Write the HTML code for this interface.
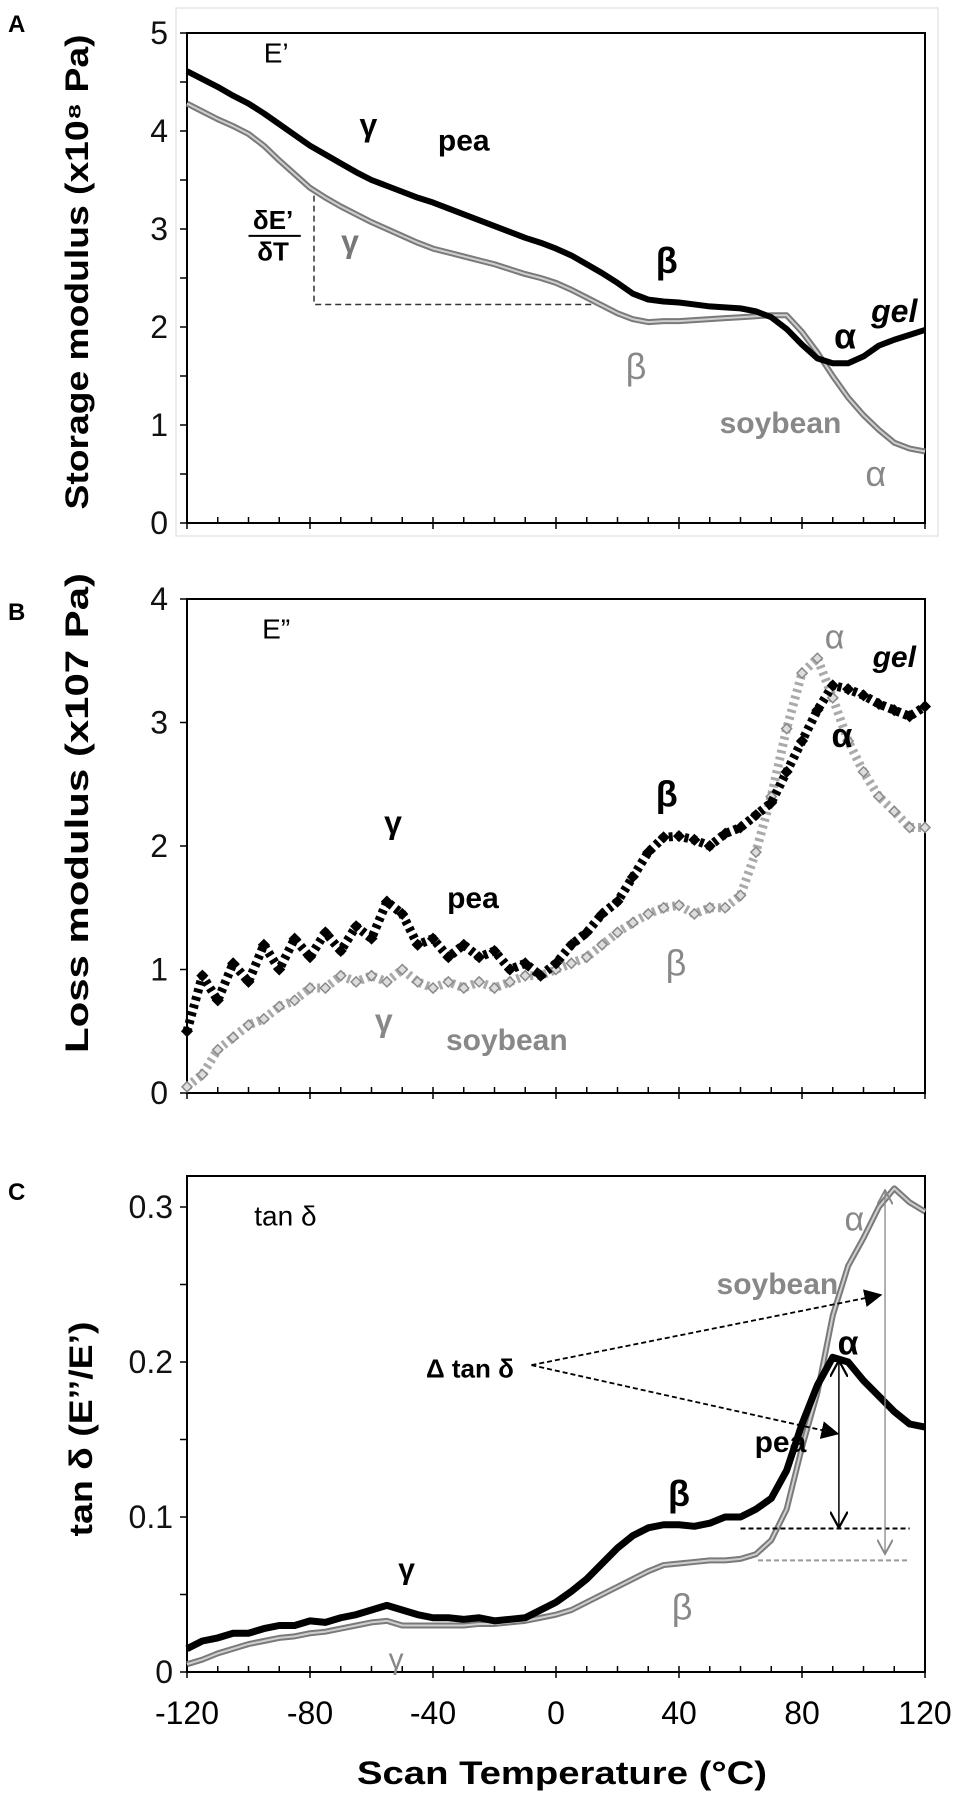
<!DOCTYPE html>
<html><head><meta charset="utf-8"><style>
html,body{margin:0;padding:0;background:#fff}
svg{display:block;font-family:"Liberation Sans",sans-serif}
</style></head><body>
<svg id="fig" width="958" height="1796" viewBox="0 0 958 1796">
<defs>
<marker id="ahB" markerWidth="10" markerHeight="10" refX="8" refY="5" orient="auto"><path d="M0,0 L10,5 L0,10 Z" fill="#000"/></marker>
<marker id="ahL" markerWidth="12" markerHeight="12" refX="10" refY="6" orient="auto-start-reverse"><path d="M0,0 L11,6 L0,12" fill="none" stroke="#000" stroke-width="1.5"/></marker>
<marker id="ahG" markerWidth="12" markerHeight="12" refX="10" refY="6" orient="auto-start-reverse"><path d="M0,0 L11,6 L0,12" fill="none" stroke="#888" stroke-width="1.5"/></marker>
</defs>
<g id="root"></g>
</svg>
<script>
const temps=[-120,-115,-110,-105,-100,-95,-90,-85,-80,-75,-70,-65,-60,-55,-50,-45,-40,-35,-30,-25,-20,-15,-10,-5,0,5,10,15,20,25,30,35,40,45,50,55,60,65,70,75,80,85,90,95,100,105,110,115,120];
const xTicks=[-120,-80,-40,0,40,80,120];
const aPea=[4.61,4.53,4.45,4.36,4.28,4.18,4.07,3.96,3.85,3.76,3.67,3.58,3.50,3.44,3.38,3.32,3.27,3.21,3.15,3.09,3.03,2.97,2.91,2.86,2.80,2.73,2.64,2.55,2.45,2.34,2.28,2.26,2.25,2.23,2.21,2.20,2.19,2.16,2.10,1.98,1.82,1.68,1.63,1.63,1.70,1.81,1.87,1.92,1.97];
const aSoy=[4.28,4.20,4.12,4.05,3.97,3.85,3.70,3.56,3.42,3.32,3.23,3.15,3.07,3.00,2.93,2.86,2.80,2.76,2.72,2.68,2.64,2.59,2.54,2.50,2.45,2.38,2.30,2.22,2.14,2.08,2.05,2.06,2.06,2.07,2.08,2.09,2.10,2.11,2.12,2.12,1.95,1.74,1.50,1.28,1.10,0.95,0.82,0.76,0.73];
const bPea=[0.5,0.95,0.75,1.05,0.9,1.2,1.0,1.25,1.1,1.3,1.15,1.35,1.25,1.55,1.45,1.2,1.25,1.1,1.2,1.1,1.15,1.0,1.05,0.95,1.05,1.2,1.3,1.45,1.55,1.75,1.95,2.07,2.08,2.05,2.0,2.1,2.15,2.25,2.35,2.6,2.85,3.1,3.3,3.27,3.22,3.15,3.1,3.05,3.13];
const bSoy=[0.05,0.15,0.35,0.45,0.55,0.6,0.7,0.75,0.85,0.85,0.95,0.9,0.95,0.9,1.0,0.9,0.85,0.9,0.85,0.9,0.85,0.9,0.95,0.95,1.0,1.05,1.1,1.2,1.3,1.38,1.45,1.5,1.52,1.45,1.5,1.5,1.6,1.95,2.4,2.95,3.4,3.52,3.2,2.85,2.6,2.4,2.28,2.15,2.15];
const cPea=[0.015,0.02,0.022,0.025,0.025,0.028,0.03,0.03,0.033,0.032,0.035,0.037,0.04,0.043,0.04,0.037,0.035,0.035,0.034,0.035,0.033,0.034,0.035,0.04,0.045,0.052,0.06,0.07,0.08,0.088,0.093,0.095,0.095,0.094,0.096,0.1,0.1,0.105,0.112,0.13,0.16,0.185,0.203,0.2,0.188,0.178,0.168,0.16,0.158];
const cSoy=[0.005,0.008,0.012,0.015,0.018,0.02,0.022,0.023,0.025,0.026,0.028,0.03,0.032,0.033,0.03,0.03,0.03,0.03,0.03,0.031,0.031,0.032,0.033,0.035,0.037,0.04,0.045,0.05,0.055,0.06,0.065,0.069,0.07,0.071,0.072,0.072,0.073,0.076,0.085,0.105,0.145,0.18,0.23,0.262,0.28,0.3,0.312,0.303,0.297];
const aYTicks=[0,1,2,3,4,5];
const bYTicks=[0,1,2,3,4];
const cYTicks=[0,0.1,0.2,0.3];
const cYLabels=["0","0.1","0.2","0.3"];

const NS="http://www.w3.org/2000/svg";
const root=document.getElementById('root');
function mk(tag,attrs,parent,text){const e=document.createElementNS(NS,tag);for(const k in attrs)e.setAttribute(k,attrs[k]);if(text!==undefined)e.textContent=text;(parent||root).appendChild(e);return e;}
const X0=187,X1=925;
function xs(t){return X0+(t+120)/240*(X1-X0);}
function mkY(vmin,vmax,py0,py1){return v=>py0+(v-vmin)/(vmax-vmin)*(py1-py0);}

function axes(g,ys,yTop,yMax,yTicks,yLabels,minorStep,labelX){
  const yb=ys(0);
  const ax=mk('path',{d:`M${X0},${yTop} L${X0},${yb} L${X1},${yb} L${X1},${yTop} Z`,fill:'none',stroke:'#000','stroke-width':2},g);
  
  for(let t=-120;t<=120;t+=10){
    const major=xTicks.indexOf(t)>=0;
    const tk=mk('line',{x1:xs(t),x2:xs(t),y1:yb-6,y2:major?yb+6:yb,stroke:'#000','stroke-width':1.5},g);
    
  }
  for(let v=0;v<=yMax+1e-9;v+=minorStep){
    const tk=mk('line',{x1:X0-7,x2:X0,y1:ys(v),y2:ys(v),stroke:'#000','stroke-width':1.5},g);
    
  }
  yTicks.forEach((v,i)=>{
    const lb=mk('text',{x:labelX,y:ys(v)+11,'text-anchor':'end','font-size':32,fill:'#111'},g,yLabels[i]);
    
  });
}
function line(g,vals,ys,color,w,name,dash){
  const a={points:temps.map((t,i)=>xs(t)+','+ys(vals[i])).join(' '),fill:'none',stroke:color,'stroke-width':w,'stroke-linejoin':'round'};
  if(dash)a['stroke-dasharray']=dash;
  const p=mk('polyline',a,g);
  
  return p;
}
function dots(g,vals,ys,fill,stroke,name){
  temps.forEach((t,i)=>{
    const x=xs(t),y=ys(vals[i]);
    const d=mk('path',{d:`M${x},${y-5} L${x+5},${y} L${x},${y+5} L${x-5},${y} Z`,fill:fill,stroke:stroke,'stroke-width':1.5},g);
    
  });
}
function label(g,t,v,ys,txt,opts){
  const o=Object.assign({size:28,fill:'#000',weight:'normal',anchor:'middle',style:'normal'},opts||{});
  const e=mk('text',{x:xs(t),y:ys(v),'font-size':o.size,fill:o.fill,'font-weight':o.weight,'text-anchor':o.anchor,'font-style':o.style},g,txt);
  
  return e;
}
function ytitle(g,cx,cy,len,txt,name){
  const e=mk('text',{x:0,y:0,transform:`translate(${cx},${cy}) rotate(-90)`,'text-anchor':'middle','font-size':32,'font-weight':'bold',textLength:len,lengthAdjust:'spacingAndGlyphs'},g,txt);
  
}
function panelLetter(g,y,txt){
  const e=mk('text',{x:8,y:y,'font-size':24,'font-weight':'bold'},g,txt);
  
}

/* Panel A */
const gA=mk('g',{});
const yA=mkY(0,5,523,33);
mk('rect',{x:176,y:8,width:762,height:528,fill:'none',stroke:'#e6e6e6','stroke-width':1.5},gA);
axes(gA,yA,33,5,aYTicks,aYTicks.map(String),0.5,168);
mk('path',{d:`M${xs(-78.7)},${yA(3.34)} L${xs(-78.7)},${yA(2.23)} L${xs(15)},${yA(2.23)}`,fill:'none',stroke:'#333','stroke-width':1.5,'stroke-dasharray':'6,4'},gA);
line(gA,aSoy,yA,'#7a7a7a',6,'soybean-storage-line');
line(gA,aSoy,yA,'#cfcfcf',2,'soybean-storage-line-core');
line(gA,aPea,yA,'#000',6,'pea-storage-line');
label(gA,-91,4.7,yA,'E’',{size:28});
label(gA,-61,3.95,yA,'γ',{size:32,weight:'bold'});
label(gA,-30,3.8,yA,'pea',{size:30,weight:'bold'});
label(gA,-92,3.0,yA,'δE’',{size:26,weight:'bold'});
mk('line',{x1:xs(-100),x2:xs(-83),y1:yA(2.93),y2:yA(2.93),stroke:'#000','stroke-width':2},gA);
label(gA,-92,2.68,yA,'δT',{size:26,weight:'bold'});
label(gA,-67,2.76,yA,'γ',{size:32,fill:'#777',weight:'bold'});
label(gA,36,2.55,yA,'β',{size:36,weight:'bold'});
label(gA,26,1.47,yA,'β',{size:36,fill:'#888'});
label(gA,94,1.78,yA,'α',{size:36,weight:'bold'});
label(gA,110,2.05,yA,'gel',{size:32,weight:'bold',style:'italic'});
label(gA,73,0.92,yA,'soybean',{size:30,fill:'#888',weight:'bold'});
label(gA,104,0.38,yA,'α',{size:36,fill:'#888'});
ytitle(gA,88,272,475,'Storage modulus (x10⁸ Pa)','y-axis-title-a');
panelLetter(gA,32,'A');

/* Panel B */
const gB=mk('g',{});
const yB=mkY(0,4,1093,599);
axes(gB,yB,599,4,bYTicks,bYTicks.map(String),1,168);
line(gB,bSoy,yB,'#aaa',9,'soybean-loss-band','3,4');
dots(gB,bSoy,yB,'#ddd','#8a8a8a','soybean-loss-point');
line(gB,bPea,yB,'#000',9,'pea-loss-band','4,4');
dots(gB,bPea,yB,'#000','#000','pea-loss-point');
label(gB,-91,3.68,yB,'E”',{size:28});
label(gB,90.6,3.6,yB,'α',{size:34,fill:'#888'});
label(gB,110,3.45,yB,'gel',{size:30,weight:'bold',style:'italic'});
label(gB,93,2.8,yB,'α',{size:34,weight:'bold'});
label(gB,36,2.32,yB,'β',{size:36,weight:'bold'});
label(gB,-53,2.1,yB,'γ',{size:32,weight:'bold'});
label(gB,-27,1.5,yB,'pea',{size:30,weight:'bold'});
label(gB,39,0.95,yB,'β',{size:36,fill:'#888'});
label(gB,-56,0.5,yB,'γ',{size:32,fill:'#888',weight:'bold'});
label(gB,-16,0.35,yB,'soybean',{size:30,fill:'#888',weight:'bold'});
ytitle(gB,88,813,480,'Loss modulus (x107 Pa)','y-axis-title-b');
panelLetter(gB,620,'B');

/* Panel C */
const gC=mk('g',{});
const yC=mkY(0,0.3,1672,1207);
axes(gC,yC,1176,0.3,cYTicks,cYLabels,0.05,173);
line(gC,cSoy,yC,'#7a7a7a',6,'soybean-tandelta-line');
line(gC,cSoy,yC,'#cfcfcf',2,'soybean-tandelta-line-core');
line(gC,cPea,yC,'#000',7,'pea-tandelta-line');
mk('line',{x1:xs(60),x2:xs(115),y1:yC(0.0926),y2:yC(0.0926),stroke:'#000','stroke-width':2,'stroke-dasharray':'5,3'},gC);
mk('line',{x1:xs(65.7),x2:xs(115),y1:yC(0.072),y2:yC(0.072),stroke:'#999','stroke-width':2,'stroke-dasharray':'5,3'},gC);
mk('line',{x1:xs(92),x2:xs(92),y1:yC(0.2),y2:yC(0.094),stroke:'#000','stroke-width':1.5,'marker-start':'url(#ahL)','marker-end':'url(#ahL)'},gC);
mk('line',{x1:xs(107),x2:xs(107),y1:yC(0.31),y2:yC(0.077),stroke:'#888','stroke-width':1.3,'marker-start':'url(#ahG)','marker-end':'url(#ahG)'},gC);
mk('line',{x1:xs(-8),x2:xs(105),y1:yC(0.198),y2:yC(0.243),stroke:'#000','stroke-width':1.8,'stroke-dasharray':'5,3','marker-end':'url(#ahB)'},gC);
mk('line',{x1:xs(-8),x2:xs(91),y1:yC(0.198),y2:yC(0.154),stroke:'#000','stroke-width':1.8,'stroke-dasharray':'5,3','marker-end':'url(#ahB)'},gC);
label(gC,-88,0.288,yC,'tan δ',{size:28});
label(gC,-28,0.19,yC,'Δ tan δ',{size:26,weight:'bold'});
label(gC,72,0.244,yC,'soybean',{size:30,fill:'#888',weight:'bold'});
label(gC,97,0.285,yC,'α',{size:34,fill:'#888'});
label(gC,95,0.205,yC,'α',{size:34,weight:'bold'});
label(gC,73,0.142,yC,'pea',{size:30,weight:'bold'});
label(gC,40,0.107,yC,'β',{size:36,weight:'bold'});
label(gC,41,0.034,yC,'β',{size:36,fill:'#888'});
label(gC,-48.6,0.06,yC,'γ',{size:30,weight:'bold'});
label(gC,-52,0.002,yC,'γ',{size:30,fill:'#888'});
xTicks.forEach(t=>{
  const e=mk('text',{x:xs(t),y:1724,'text-anchor':'middle','font-size':32},gC,String(t));
  
});
ytitle(gC,92,1429,215,'tan δ (E’’/E’)','y-axis-title-c');
panelLetter(gC,1200,'C');
const xt=mk('text',{x:562,y:1784,'text-anchor':'middle','font-size':32,'font-weight':'bold',textLength:410,lengthAdjust:'spacingAndGlyphs'},gC,'Scan Temperature (°C)');


</script>
</body></html>
